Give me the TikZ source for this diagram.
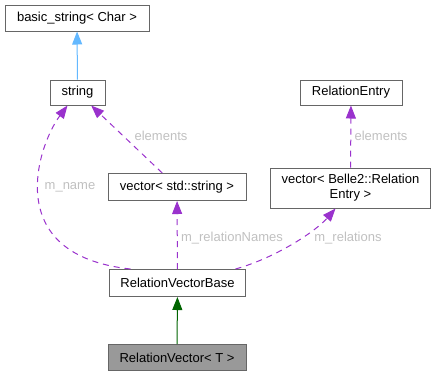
\documentclass[tikz,border=0pt]{standalone}
\usepackage{fontspec}
\setmainfont{Liberation Sans}
\usetikzlibrary{arrows.meta,calc}
\definecolor{boxline}{HTML}{666666}
\definecolor{mainfill}{HTML}{999999}
\definecolor{baseblue}{HTML}{63B8FF}
\definecolor{basegreen}{HTML}{006400}
\definecolor{memberpurple}{HTML}{9A32CD}
\definecolor{labelgrey}{HTML}{C0C0C0}
\begin{document}
\begin{tikzpicture}[x=1pt, y=-1pt, font=\fontsize{13}{15}\selectfont,
    classbox/.style={draw=boxline, fill=white, line width=1pt, inner sep=2pt, minimum height=26pt},
    head/.style={-{Triangle[length=13pt,width=10pt]}},
    inherits/.style={head, line width=1pt},
    member/.style={head, color=memberpurple, line width=1pt, dash pattern=on 6pt off 5pt},
    edgelabel/.style={text=labelgrey}]
    \useasboundingbox (0,0) rectangle (436,376);
    \node[classbox, minimum width=144pt] (basic) at (77,18) {basic\_string< Char >};
    \node[classbox, minimum width=55pt, minimum height=25pt] (string) at (77.5,92.5) {string};
    \node[classbox, minimum width=102pt, minimum height=25pt] (entry) at (351,92.5) {RelationEntry};
    \node[classbox, minimum width=138pt, minimum height=27pt] (vecstr) at (177,187) {vector< std::string >};
    \node[classbox, minimum width=160pt, minimum height=40pt, align=center] (vecrel) at (350.5,188)
        {vector< Belle2::Relation\\Entry >};
    \node[classbox, minimum width=136pt, minimum height=27pt] (base) at (177.5,283) {RelationVectorBase};
    \node[classbox, fill=mainfill, minimum width=138pt] (relvec) at (177,357.5) {RelationVector< T >};

    \draw[inherits, color=baseblue] (string) -- (basic);
    \draw[inherits, color=basegreen] (relvec) -- (base);
    \draw[member] ($(base.north)+(-47,0)$) .. controls (0,255) and (38,145) .. ($(string.south)+(-10,0)$);
    \draw[member] (vecstr) -- (string);
    \draw[member] (base) -- (vecstr);
    \draw[member] ($(base.north)+(58,0)$) .. controls (275,258) and (315,232) .. ($(vecrel.south)+(-15,0)$);
    \draw[member] (vecrel) -- (entry);

    \node[edgelabel] (lname) at (70,187) {m\_name};
    \node[edgelabel] (lelem) at (161,136) {elements};
    \node[edgelabel] (lnames) at (232,238) {m\_relationNames};
    \node[edgelabel] (lrel) at (348,238) {m\_relations};
    \node[edgelabel] (lentry) at (381,136) {elements};
\end{tikzpicture}
\end{document}
